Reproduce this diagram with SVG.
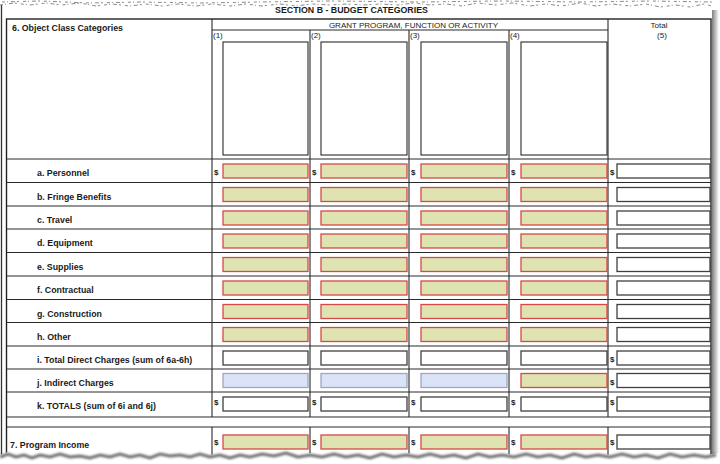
<svg xmlns="http://www.w3.org/2000/svg" width="720" height="464" viewBox="0 0 720 464">
<style>
  text { font-family: "Liberation Sans", Arial, sans-serif; fill: #1a1a1a; }
  .lbl { font-size: 8.8px; font-weight: bold; }
  .hdr { font-size: 8px; }
  .dol { font-size: 8px; font-weight: bold; }
  .ln { stroke: #2a2a2a; stroke-width: 1.1; fill: none; }
  .frame { stroke: #222; stroke-width: 1.4; fill: none; }
  .g { fill: #dfe2b1; stroke: #d94848; stroke-width: 1.3; }
  .w { fill: #ffffff; stroke: #404040; stroke-width: 1.3; }
  .b { fill: #dbe3f9; stroke: #9ea7bb; stroke-width: 1.3; }
  .hb { fill: #ffffff; stroke: #2a2a2a; stroke-width: 1.1; }
  .speck { stroke: #8a8a8a; stroke-width: 1; fill: none; stroke-dasharray: 3 2 1 3 4 2 2 4; }
</style>
<defs>
  <filter id="blur" x="-5%" y="-50%" width="110%" height="200%"><feGaussianBlur stdDeviation="1.2"/></filter>
  <linearGradient id="rs" x1="0" x2="1" y1="0" y2="0">
    <stop offset="0" stop-color="#7e7e7e"/>
    <stop offset="1" stop-color="#ffffff"/>
  </linearGradient>
</defs>
<rect x="0" y="0" width="720" height="464" fill="#ffffff"/>

<!-- left page edge -->
<line x1="1.5" y1="0" x2="1.5" y2="456" stroke="#333" stroke-width="1.3"/>

<!-- title -->
<text x="351.5" y="12.5" text-anchor="middle" class="lbl">SECTION B - BUDGET CATEGORIES</text>

<!-- grid lines -->
<g id="connectors">
  <rect x="6.5" y="19" width="704.5" height="445" class="frame"/>
  <line x1="212" y1="30" x2="608" y2="30" class="ln"/>
  <path class="ln" d="M212,19V417 M212,427V464 M310,30V417 M310,427V464 M409,30V417 M409,427V464 M509,30V417 M509,427V464 M608,19V417 M608,427V464"/>
  <path class="ln" d="M7,159H711 M7,182.5H711 M7,206H711 M7,229H711 M7,252.5H711 M7,276H711 M7,299.5H711 M7,322.5H711 M7,346H711 M7,369H711 M7,392H711 M7,417H711 M7,427H711"/>
</g>

<!-- header -->
<g id="header">
  <text x="12" y="31" class="lbl">6. Object Class Categories</text>
  <text x="413.5" y="27.5" text-anchor="middle" class="hdr">GRANT PROGRAM, FUNCTION OR ACTIVITY</text>
  <text x="213" y="37.5" class="hdr">(1)</text>
  <text x="311" y="37.5" class="hdr">(2)</text>
  <text x="410" y="37.5" class="hdr">(3)</text>
  <text x="510" y="37.5" class="hdr">(4)</text>
  <text x="659" y="27.5" text-anchor="middle" class="hdr">Total</text>
  <text x="662" y="37.5" text-anchor="middle" class="hdr">(5)</text>
  <rect x="223" y="42" width="85" height="113" class="hb"/>
  <rect x="321" y="42" width="86" height="113" class="hb"/>
  <rect x="421" y="42" width="86" height="113" class="hb"/>
  <rect x="521" y="42" width="86" height="113" class="hb"/>
</g>

<g id="row-a">
  <text x="37" y="176" class="lbl">a. Personnel</text>
  <text x="214" y="175" class="dol">$</text><text x="312" y="175" class="dol">$</text><text x="411" y="175" class="dol">$</text><text x="511" y="175" class="dol">$</text><text x="610" y="175" class="dol">$</text>
  <rect x="223" y="164" width="85" height="14" class="g"/><rect x="321" y="164" width="86" height="14" class="g"/><rect x="421" y="164" width="86" height="14" class="g"/><rect x="521" y="164" width="86" height="14" class="g"/><rect x="617" y="164" width="93" height="14" class="w"/>
</g>
<g id="row-b">
  <text x="37" y="199.5" class="lbl">b. Fringe Benefits</text>
  <rect x="223" y="187.5" width="85" height="14" class="g"/><rect x="321" y="187.5" width="86" height="14" class="g"/><rect x="421" y="187.5" width="86" height="14" class="g"/><rect x="521" y="187.5" width="86" height="14" class="g"/><rect x="617" y="187.5" width="93" height="14" class="w"/>
</g>
<g id="row-c">
  <text x="37" y="223" class="lbl">c. Travel</text>
  <rect x="223" y="211" width="85" height="14" class="g"/><rect x="321" y="211" width="86" height="14" class="g"/><rect x="421" y="211" width="86" height="14" class="g"/><rect x="521" y="211" width="86" height="14" class="g"/><rect x="617" y="211" width="93" height="14" class="w"/>
</g>
<g id="row-d">
  <text x="37" y="246" class="lbl">d. Equipment</text>
  <rect x="223" y="234" width="85" height="14" class="g"/><rect x="321" y="234" width="86" height="14" class="g"/><rect x="421" y="234" width="86" height="14" class="g"/><rect x="521" y="234" width="86" height="14" class="g"/><rect x="617" y="234" width="93" height="14" class="w"/>
</g>
<g id="row-e">
  <text x="37" y="269.5" class="lbl">e. Supplies</text>
  <rect x="223" y="257.5" width="85" height="14" class="g"/><rect x="321" y="257.5" width="86" height="14" class="g"/><rect x="421" y="257.5" width="86" height="14" class="g"/><rect x="521" y="257.5" width="86" height="14" class="g"/><rect x="617" y="257.5" width="93" height="14" class="w"/>
</g>
<g id="row-f">
  <text x="37" y="293" class="lbl">f. Contractual</text>
  <rect x="223" y="281" width="85" height="14" class="g"/><rect x="321" y="281" width="86" height="14" class="g"/><rect x="421" y="281" width="86" height="14" class="g"/><rect x="521" y="281" width="86" height="14" class="g"/><rect x="617" y="281" width="93" height="14" class="w"/>
</g>
<g id="row-g">
  <text x="37" y="316.5" class="lbl">g. Construction</text>
  <rect x="223" y="304.5" width="85" height="14" class="g"/><rect x="321" y="304.5" width="86" height="14" class="g"/><rect x="421" y="304.5" width="86" height="14" class="g"/><rect x="521" y="304.5" width="86" height="14" class="g"/><rect x="617" y="304.5" width="93" height="14" class="w"/>
</g>
<g id="row-h">
  <text x="37" y="339.5" class="lbl">h. Other</text>
  <rect x="223" y="327.5" width="85" height="14" class="g"/><rect x="321" y="327.5" width="86" height="14" class="g"/><rect x="421" y="327.5" width="86" height="14" class="g"/><rect x="521" y="327.5" width="86" height="14" class="g"/><rect x="617" y="327.5" width="93" height="14" class="w"/>
</g>
<g id="row-i">
  <text x="37" y="363" class="lbl">i. Total Direct Charges (sum of 6a-6h)</text>
  <text x="610" y="362" class="dol">$</text>
  <rect x="223" y="351" width="85" height="14" class="w"/><rect x="321" y="351" width="86" height="14" class="w"/><rect x="421" y="351" width="86" height="14" class="w"/><rect x="521" y="351" width="86" height="14" class="w"/><rect x="617" y="351" width="93" height="14" class="w"/>
</g>
<g id="row-j">
  <text x="37" y="386" class="lbl">j. Indirect Charges</text>
  <text x="610" y="385" class="dol">$</text>
  <rect x="223" y="373.5" width="85" height="14" class="b"/><rect x="321" y="373.5" width="86" height="14" class="b"/><rect x="421" y="373.5" width="86" height="14" class="b"/><rect x="521" y="373.5" width="86" height="14" class="g"/><rect x="617" y="373.5" width="93" height="14" class="w"/>
</g>
<g id="row-k">
  <text x="37" y="409" class="lbl">k. TOTALS (sum of 6i and 6j)</text>
  <text x="214" y="405" class="dol">$</text><text x="312" y="405" class="dol">$</text><text x="411" y="405" class="dol">$</text><text x="511" y="405" class="dol">$</text><text x="610" y="405" class="dol">$</text>
  <rect x="223" y="397" width="85" height="14" class="w"/><rect x="321" y="397" width="86" height="14" class="w"/><rect x="421" y="397" width="86" height="14" class="w"/><rect x="521" y="397" width="86" height="14" class="w"/><rect x="617" y="397" width="93" height="14" class="w"/>
</g>
<g id="row-7">
  <text x="10" y="448" class="lbl">7. Program Income</text>
  <text x="214" y="445" class="dol">$</text><text x="312" y="445" class="dol">$</text><text x="411" y="445" class="dol">$</text><text x="511" y="445" class="dol">$</text><text x="610" y="445" class="dol">$</text>
  <rect x="223" y="435" width="85" height="14" class="g"/><rect x="321" y="435" width="86" height="14" class="g"/><rect x="421" y="435" width="86" height="14" class="g"/><rect x="521" y="435" width="86" height="14" class="g"/><rect x="617" y="435" width="93" height="14" class="w"/>
</g>

<!-- right shadow -->
<rect x="712" y="10" width="7" height="446" fill="url(#rs)"/>

<!-- torn top edge -->
<path d="M0,0 H720 V6 L704,4 L690,7 L676,5 L660,7 L646,4 L630,6 L612,4 L596,6 L580,3 L562,6 L546,4 L530,6 L512,3 L496,5 L478,3 L462,6 L446,4 L430,5 L414,3 L398,5 L380,4 L364,5 L346,4 L330,5 L312,4 L296,6 L280,4 L262,6 L246,4 L230,6 L212,4 L196,6 L178,4 L162,6 L146,4 L130,6 L112,4 L96,6 L80,3 L62,5 L46,3 L30,5 L14,3 L0,5 Z" fill="#ffffff"/>
<path class="speck" d="M0,5 L14,3 L30,5 L46,3 L62,5 L80,3 L96,6 L112,4 L130,6 L146,4 L162,6 L178,4 L196,6 L212,4 L230,6 L246,4 L262,6 L280,4 L296,6 L312,4 L330,5 L346,4 L364,5 L380,4 L398,5 L414,3 L430,5 L446,4 L462,6 L478,3 L496,5 L512,3 L530,6 L546,4 L562,6 L580,3 L596,6 L612,4 L630,6 L646,4 L660,7 L676,5 L690,7 L704,4 L712,6"/>
<path class="speck" d="M2,2 L40,1 L90,3 L140,2 L200,3 L260,2 L330,1 L420,2 L500,1 L580,2 L650,1 L712,2" stroke-dasharray="2 5 1 7 3 6"/>

<!-- torn bottom edge -->
<path d="M0,455 L8,452 L16,455 L24,453 L32,456 L40,453 L50,455 L60,452 L70,455 L80,454 L90,456 L100,453 L110,455 L120,452 L130,455 L140,453 L150,456 L160,452 L170,454 L180,453 L190,455 L200,452 L210,455 L220,453 L230,456 L240,453 L250,455 L262,452 L274,454 L286,451 L298,455 L310,453 L322,455 L334,452 L346,455 L358,453 L370,456 L382,452 L394,455 L406,453 L418,455 L430,452 L442,455 L454,453 L466,456 L478,452 L490,455 L502,453 L514,455 L526,452 L538,455 L550,453 L562,456 L574,452 L586,455 L598,453 L610,455 L622,452 L634,455 L646,453 L658,456 L670,452 L682,455 L694,453 L706,455 L720,453 V464 H0 Z" fill="#ffffff"/>
<path d="M0,457 L8,454 L16,457 L24,455 L32,458 L40,455 L50,457 L60,454 L70,457 L80,456 L90,458 L100,455 L110,457 L120,454 L130,457 L140,455 L150,458 L160,454 L170,456 L180,455 L190,457 L200,454 L210,457 L220,455 L230,458 L240,455 L250,457 L262,454 L274,456 L286,453 L298,457 L310,455 L322,457 L334,454 L346,457 L358,455 L370,458 L382,454 L394,457 L406,455 L418,457 L430,454 L442,457 L454,455 L466,458 L478,454 L490,457 L502,455 L514,457 L526,454 L538,457 L550,455 L562,458 L574,454 L586,457 L598,455 L610,457 L622,454 L634,457 L646,455 L658,458 L670,454 L682,457 L694,455 L706,457 L716,455" fill="none" stroke="#6f6f6f" stroke-width="3" filter="url(#blur)"/>
</svg>
